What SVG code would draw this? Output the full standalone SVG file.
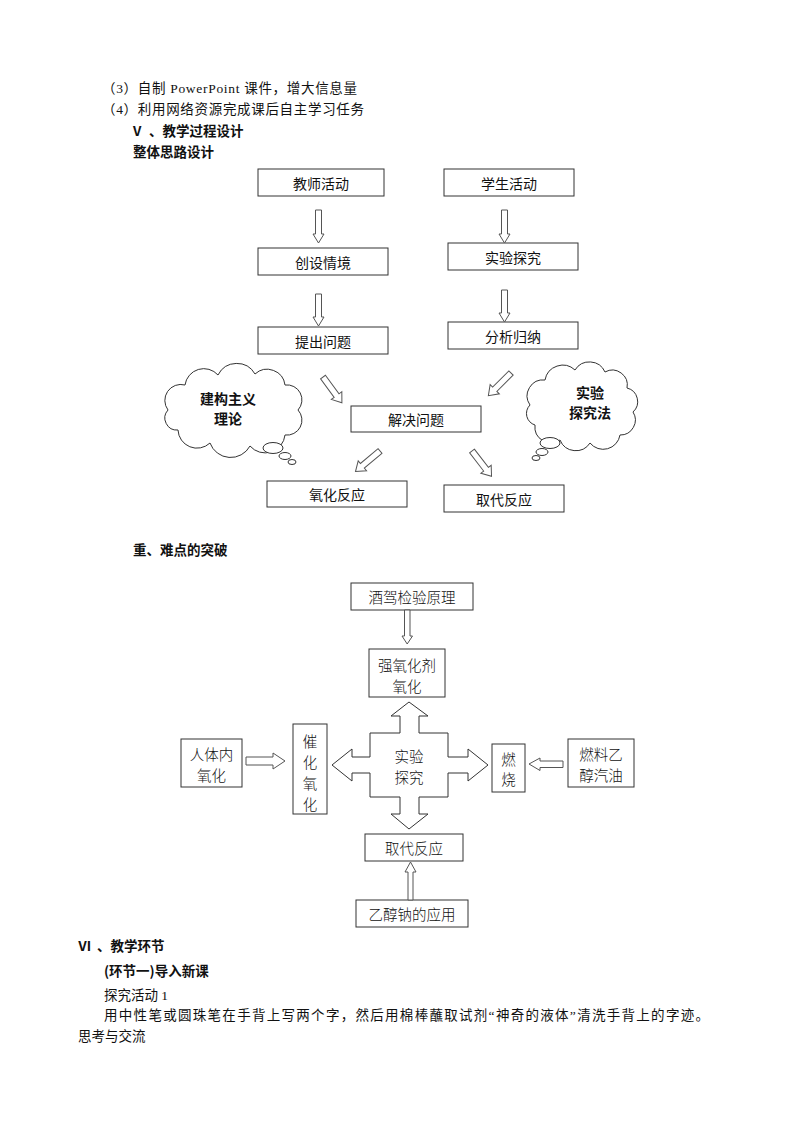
<svg xmlns="http://www.w3.org/2000/svg" width="800" height="1132" viewBox="0 0 800 1132">
<style>
text{fill:#111;font-family:"Liberation Serif","Noto Sans CJK SC",serif;}
.t{font-size:13.5px;dominant-baseline:central;}
.h{font-family:"Noto Sans CJK SC",sans-serif;font-weight:bold;font-size:13.5px;dominant-baseline:central;}
.bx{fill:#fff;stroke:#333;stroke-width:1;}
.lb{font-family:"Noto Sans CJK SC",sans-serif;font-size:14px;text-anchor:middle;dominant-baseline:central;}
.lb2{font-family:"Noto Sans CJK SC",sans-serif;font-size:14.5px;text-anchor:middle;dominant-baseline:central;font-weight:300;}
.cl{font-family:"Noto Sans CJK SC",sans-serif;font-size:14px;font-weight:bold;text-anchor:middle;dominant-baseline:central;}
.ar{fill:#fff;stroke:#555;stroke-width:1;}
.cloud{fill:#fff;stroke:#333;stroke-width:1;}
</style>
<defs>
<path id="darr" d="M0,-3 L23,-3 L23,-6.5 L32,0 L23,6.5 L23,3 L0,3 Z"/>
</defs>
<rect width="800" height="1132" fill="#fff"/>

<!-- header text -->
<text class="t" x="102" y="88" textLength="255" lengthAdjust="spacing">（3）自制 PowerPoint 课件，增大信息量</text>
<text class="t" x="102" y="109" textLength="262" lengthAdjust="spacing">（4）利用网络资源完成课后自主学习任务</text>
<text class="h" x="133" y="130">V</text>
<text class="h" x="149" y="130">、教学过程设计</text>
<text class="h" x="133" y="151">整体思路设计</text>

<!-- diagram 1 -->
<g id="n-teacher"><rect class="bx" x="258" y="169" width="126" height="27"/><text class="lb" x="321" y="182.5">教师活动</text></g>
<g id="n-student"><rect class="bx" x="444" y="169" width="130" height="27"/><text class="lb" x="509" y="182.5">学生活动</text></g>
<g id="n-situation"><rect class="bx" x="258" y="248" width="130" height="27"/><text class="lb" x="323" y="261.5">创设情境</text></g>
<g id="n-experiment"><rect class="bx" x="448" y="243" width="130" height="27"/><text class="lb" x="513" y="256.5">实验探究</text></g>
<g id="n-question"><rect class="bx" x="258" y="327" width="130" height="27"/><text class="lb" x="323" y="340.5">提出问题</text></g>
<g id="n-analyze"><rect class="bx" x="448" y="322" width="130" height="27"/><text class="lb" x="513" y="335.5">分析归纳</text></g>
<g id="n-solve"><rect class="bx" x="351" y="406" width="130" height="26"/><text class="lb" x="416" y="419">解决问题</text></g>
<g id="n-oxid"><rect class="bx" x="267" y="481" width="140" height="26"/><text class="lb" x="337" y="494">氧化反应</text></g>
<g id="n-subst"><rect class="bx" x="444" y="485" width="120" height="27"/><text class="lb" x="504" y="498.5">取代反应</text></g>

<g id="n-cloud-left">
<path class="cloud" d="M168,410 A16,16 0 0 1 185,385 A19,19 0 0 1 218,375 A21,21 0 0 1 255,374 A18,18 0 0 1 285,385 A15,15 0 0 1 298,410 A15,15 0 0 1 285,435 A20,20 0 0 1 250,446 A22,22 0 0 1 210,443 A19,19 0 0 1 178,430 A12,12 0 0 1 168,410 Z"/>
<ellipse class="cloud" cx="273" cy="448" rx="10" ry="5.5"/>
<ellipse class="cloud" cx="285" cy="456" rx="6" ry="3.5"/>
<ellipse class="cloud" cx="292" cy="462" rx="4" ry="2.5"/>
<text class="cl" x="228" y="398">建构主义</text>
<text class="cl" x="228" y="418">理论</text>
</g>
<g id="n-cloud-right">
<path class="cloud" d="M530,405 A16,16 0 0 1 545,380 A18,18 0 0 1 575,370 A17,17 0 0 1 605,372 A15,15 0 0 1 627,388 A14,14 0 0 1 633,412 A15,15 0 0 1 620,435 A17,17 0 0 1 590,443 A17,17 0 0 1 560,440 A16,16 0 0 1 535,425 A12,12 0 0 1 530,405 Z"/>
<ellipse class="cloud" cx="550" cy="443" rx="10" ry="5.5"/>
<ellipse class="cloud" cx="542" cy="452" rx="6" ry="3.5"/>
<ellipse class="cloud" cx="536" cy="458" rx="4" ry="2.5"/>
<text class="cl" x="590" y="392">实验</text>
<text class="cl" x="590" y="412">探究法</text>
</g>

<g id="connectors1">
<polygon class="ar" points="315.5,210 321.5,210 321.5,234 324,234 318.5,243 313,234 315.5,234"/>
<polygon class="ar" points="315.5,294 321.5,294 321.5,317 324,317 318.5,326 313,317 315.5,317"/>
<polygon class="ar" points="501.5,210 507.5,210 507.5,234 510,234 504.5,243 499,234 501.5,234"/>
<polygon class="ar" points="501.5,290 507.5,290 507.5,313 510,313 504.5,322 499,313 501.5,313"/>
<use href="#darr" class="ar" transform="translate(323,377) rotate(53.8)"/>
<use href="#darr" class="ar" transform="translate(511,373) rotate(135)"/>
<use href="#darr" class="ar" transform="translate(380,451) rotate(140)"/>
<use href="#darr" class="ar" transform="translate(472,451) rotate(52.4)"/>
</g>

<text class="h" x="133" y="549">重、难点的突破</text>

<!-- diagram 2 -->
<g id="n-alcohol-test"><rect class="bx" x="351" y="583" width="122" height="27"/><text class="lb2" x="412" y="596.5">酒驾检验原理</text></g>
<g id="n-strong-ox"><rect class="bx" x="369" y="649" width="76" height="48"/><text class="lb2" x="407" y="664">强氧化剂</text><text class="lb2" x="407" y="685">氧化</text></g>
<g id="n-body"><rect class="bx" x="181" y="739" width="61" height="48"/><text class="lb2" x="211.5" y="753">人体内</text><text class="lb2" x="211.5" y="774">氧化</text></g>
<g id="n-catalytic"><rect class="bx" x="293" y="724" width="34" height="90"/><text class="lb2" x="310" y="740">催</text><text class="lb2" x="310" y="761">化</text><text class="lb2" x="310" y="782">氧</text><text class="lb2" x="310" y="803">化</text></g>
<g id="n-center"><polygon class="bx" points="409,702 428,716 419,716 419,733 448,733 448,757 468,757 468,749 488,765 468,781 468,773 448,773 448,797 419,797 419,814 428,814 409,829 391,814 400,814 400,797 370,797 370,773 352,773 352,781 332,765 352,749 352,757 370,757 370,733 400,733 400,716 391,716"/><text class="lb2" x="409" y="755">实验</text><text class="lb2" x="409" y="776">探究</text></g>
<g id="n-burn"><rect class="bx" x="492" y="744" width="33" height="48"/><text class="lb2" x="508.5" y="758">燃</text><text class="lb2" x="508.5" y="778">烧</text></g>
<g id="n-fuel"><rect class="bx" x="568" y="739" width="66" height="48"/><text class="lb2" x="601" y="753">燃料乙</text><text class="lb2" x="601" y="774">醇汽油</text></g>
<g id="n-subst2"><rect class="bx" x="365" y="834" width="98" height="27"/><text class="lb2" x="414" y="847.5">取代反应</text></g>
<g id="n-sodium"><rect class="bx" x="356" y="900" width="112" height="27"/><text class="lb2" x="412" y="913.5">乙醇钠的应用</text></g>

<g id="connectors2">
<polygon class="ar" points="404.5,610 410,610 410,636 412.5,636 407.2,644 402,636 404.5,636"/>
<polygon class="ar" points="246,757 273,757 273,753 285,761 273,769 273,765 246,765"/>
<polygon class="ar" points="563,761 540,761 540,758 529,764 540,770.5 540,767.5 563,767.5"/>
<polygon class="ar" points="408,900 408,872 405,872 410.5,862 416,872 413,872 413,900"/>
</g>

<!-- bottom text -->
<text class="h" x="78" y="945">Ⅵ</text>
<text class="h" x="97" y="945">、教学环节</text>
<text class="h" x="104" y="970">(环节一)导入新课</text>
<text class="t" x="104" y="995">探究活动 1</text>
<text class="t" x="104" y="1015" textLength="605" lengthAdjust="spacing">用中性笔或圆珠笔在手背上写两个字，然后用棉棒蘸取试剂“神奇的液体”清洗手背上的字迹。</text>
<text class="t" x="78" y="1036">思考与交流</text>
</svg>
